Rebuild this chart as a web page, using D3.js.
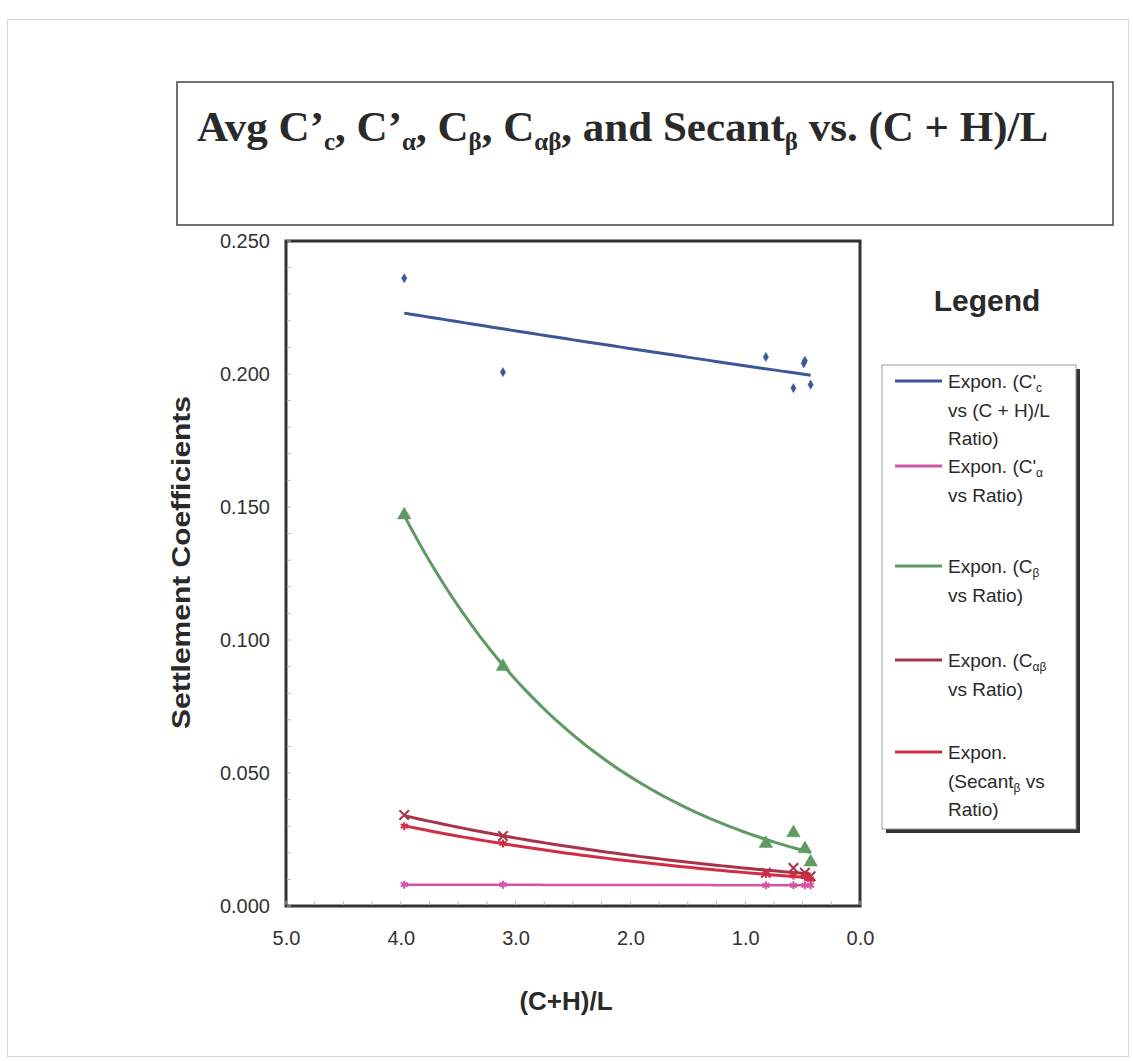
<!DOCTYPE html>
<html>
<head>
<meta charset="utf-8">
<script src="https://cdn.jsdelivr.net/npm/d3@7"></script>
<style>
  html, body { margin: 0; padding: 0; background: #fff; }
  svg { display: block; }
</style>
</head>
<body>
<svg id="chart" width="1133" height="1061"></svg>
<script>
// (C+H)/L ratio for each sample, and the averaged coefficients at each ratio
const ccRatio   = [3.97, 3.11, 0.82, 0.48, 0.49, 0.58, 0.43];
const ccValues  = [0.236, 0.2007, 0.2064, 0.205, 0.204, 0.1947, 0.196];

const caRatio   = [3.97, 3.11, 0.82, 0.58, 0.48, 0.43];
const caValues  = [0.0080, 0.0080, 0.0078, 0.0078, 0.0078, 0.0078];

const cbRatio   = [3.97, 3.11, 0.82, 0.58, 0.48, 0.43];
const cbValues  = [0.147, 0.090, 0.0235, 0.0275, 0.0215, 0.0165];

const cabRatio  = [3.97, 3.11, 0.82, 0.58, 0.48, 0.43];
const cabValues = [0.0342, 0.0263, 0.0125, 0.0143, 0.0125, 0.0112];

const secRatio  = [3.97, 3.11, 0.82, 0.58, 0.48, 0.43];
const secValues = [0.0300, 0.0235, 0.0120, 0.0115, 0.0110, 0.0100];

const xTicks = [5, 4, 3, 2, 1, 0];
const yTicks = [0, 0.05, 0.10, 0.15, 0.20, 0.25];

const series = [
  { key: "cc",  x: ccRatio,  y: ccValues,  color: "#3b5796", marker: "diamond", width: 3,
    legend: [["Expon. (C'", "c", ""], ["vs (C + H)/L"], ["Ratio)"]] },
  { key: "ca",  x: caRatio,  y: caValues,  color: "#d455a8", marker: "star", width: 2.5,
    legend: [["Expon. (C'", "α", ""], ["vs Ratio)"]] },
  { key: "cb",  x: cbRatio,  y: cbValues,  color: "#5f9a62", marker: "triangle", width: 3,
    legend: [["Expon. (C", "β", ""], ["vs Ratio)"]] },
  { key: "cab", x: cabRatio, y: cabValues, color: "#a8344a", marker: "cross", width: 3,
    legend: [["Expon. (C", "αβ", ""], ["vs Ratio)"]] },
  { key: "sec", x: secRatio, y: secValues, color: "#d42c44", marker: "star", width: 3,
    legend: [["Expon."], ["(Secant", "β", " vs"], ["Ratio)"]] }
];

// Least-squares exponential trend y = a·e^(b·x), fitted on ln(y)
function expFit(xs, ys) {
  const n = xs.length;
  const ly = ys.map(Math.log);
  const mx = d3.mean(xs), my = d3.mean(ly);
  let sxy = 0, sxx = 0;
  for (let i = 0; i < n; i++) {
    sxy += (xs[i] - mx) * (ly[i] - my);
    sxx += (xs[i] - mx) ** 2;
  }
  const b = sxy / sxx;
  const a = Math.exp(my - b * mx);
  return x => a * Math.exp(b * x);
}

const svg = d3.select("#chart");
const font = "'Liberation Sans', Arial, sans-serif";

// page frame
svg.append("rect").attr("x", 7.5).attr("y", 19.5).attr("width", 1121).attr("height", 1037)
  .attr("fill", "none").attr("stroke", "#d8d8d8").attr("stroke-width", 1);

// title box
svg.append("rect").attr("x", 177).attr("y", 82).attr("width", 936).attr("height", 143)
  .attr("fill", "#fff").attr("stroke", "#444").attr("stroke-width", 1.5);

const title = svg.append("text")
  .attr("x", 197).attr("y", 141)
  .attr("font-family", "'Liberation Serif', 'Times New Roman', serif")
  .attr("font-weight", "bold").attr("font-size", 43).attr("fill", "#2a2a2a");
const titleParts = [
  ["Avg C’", false], ["c", true], [", C’", false], ["α", true], [", C", false], ["β", true],
  [", C", false], ["αβ", true], [", and Secant", false], ["β", true], [" vs. (C + H)/L", false]
];
titleParts.forEach(([t, sub], i) => {
  const ts = title.append("tspan").text(t);
  if (sub) ts.attr("font-size", 25).attr("dy", 9);
  else if (i > 0 && titleParts[i - 1][1]) ts.attr("dy", -9);
});

// plot area
const plot = { left: 286, right: 860, top: 241, bottom: 906 };
const x = d3.scaleLinear().domain([5, 0]).range([plot.left, plot.right]);
const y = d3.scaleLinear().domain([0, 0.25]).range([plot.bottom, plot.top]);

svg.append("rect")
  .attr("x", plot.left).attr("y", plot.top)
  .attr("width", plot.right - plot.left).attr("height", plot.bottom - plot.top)
  .attr("fill", "#fff").attr("stroke", "#333").attr("stroke-width", 3);

// axes: labels only, the frame draws the lines
const xAxis = svg.append("g").attr("transform", `translate(0,${plot.bottom})`)
  .call(d3.axisBottom(x).tickValues(xTicks).tickFormat(d3.format(".1f")).tickSize(0).tickPadding(25));
const yAxis = svg.append("g").attr("transform", `translate(${plot.left},0)`)
  .call(d3.axisLeft(y).tickValues(yTicks).tickFormat(d3.format(".3f")).tickSize(0).tickPadding(16));
[xAxis, yAxis].forEach(g => {
  g.select(".domain").remove();
  g.selectAll("text").attr("font-family", font).attr("font-size", 20).attr("fill", "#333");
});

// minor tick marks just inside the frame
const minorY = d3.range(0, 0.2501, 0.01);
svg.append("g").selectAll("line").data(minorY).join("line")
  .attr("x1", plot.left + 1).attr("x2", plot.left + 5)
  .attr("y1", d => y(d)).attr("y2", d => y(d))
  .attr("stroke", "#bbb").attr("stroke-width", 1);
const minorX = d3.range(0, 5.01, 0.25);
svg.append("g").selectAll("line").data(minorX).join("line")
  .attr("y1", plot.bottom - 1).attr("y2", plot.bottom - 5)
  .attr("x1", d => x(d)).attr("x2", d => x(d))
  .attr("stroke", "#bbb").attr("stroke-width", 1);

// axis titles
svg.append("text").attr("transform", `translate(190,${(plot.top + plot.bottom) / 2 - 11}) rotate(-90)`)
  .attr("text-anchor", "middle").attr("font-family", font).attr("font-weight", "bold")
  .attr("font-size", 26).attr("textLength", 333).attr("lengthAdjust", "spacingAndGlyphs")
  .attr("fill", "#2a2a2a").text("Settlement Coefficients");
svg.append("text").attr("x", 566).attr("y", 1010)
  .attr("text-anchor", "middle").attr("font-family", font).attr("font-weight", "bold")
  .attr("font-size", 26).attr("fill", "#2a2a2a").text("(C+H)/L");

// trend lines
const line = d3.line().x(d => x(d[0])).y(d => y(d[1]));
const marks = svg.append("g");
series.forEach(s => {
  const f = expFit(s.x, s.y);
  const [x0, x1] = d3.extent(s.x);
  const pts = d3.range(0, 61).map(i => {
    const xv = x0 + (x1 - x0) * i / 60;
    return [xv, f(xv)];
  });
  marks.append("path").datum(pts).attr("d", line)
    .attr("fill", "none").attr("stroke", s.color).attr("stroke-width", s.width)
    .attr("stroke-linejoin", "round");
});

// data markers
const symbolFor = {
  diamond: d3.symbol().type(d3.symbolDiamond).size(24),
  triangle: d3.symbol().type(d3.symbolTriangle).size(80),
  cross: d3.symbol().type(d3.symbolTimes).size(60),
  star: d3.symbol().type(d3.symbolAsterisk).size(45)
};
series.forEach(s => {
  const pts = s.x.map((xv, i) => [xv, s.y[i]]);
  const filled = s.marker === "diamond" || s.marker === "triangle";
  marks.append("g").selectAll("path").data(pts).join("path")
    .attr("transform", d => `translate(${x(d[0])},${y(d[1])})`)
    .attr("d", symbolFor[s.marker])
    .attr("fill", filled ? s.color : "none")
    .attr("stroke", s.color).attr("stroke-width", filled ? 0.5 : 2);
});

// legend
svg.append("text").attr("x", 987).attr("y", 311).attr("text-anchor", "middle")
  .attr("font-family", font).attr("font-weight", "bold").attr("font-size", 30)
  .attr("fill", "#2a2a2a").text("Legend");

const lg = { x: 882, y: 365, w: 194, h: 464 };
svg.append("rect").attr("x", lg.x + 4).attr("y", lg.y + 4).attr("width", lg.w).attr("height", lg.h)
  .attr("fill", "#333");
svg.append("rect").attr("x", lg.x).attr("y", lg.y).attr("width", lg.w).attr("height", lg.h)
  .attr("fill", "#fff").attr("stroke", "#999").attr("stroke-width", 1);

const entryY = [381, 466, 566, 660, 752];
const lineGap = 28.5;
series.forEach((s, i) => {
  const ey = entryY[i];
  svg.append("line").attr("x1", 895).attr("x2", 942).attr("y1", ey).attr("y2", ey)
    .attr("stroke", s.color).attr("stroke-width", 3);
  s.legend.forEach((row, r) => {
    const t = svg.append("text").attr("x", 948).attr("y", ey + 7 + r * lineGap)
      .attr("font-family", font).attr("font-size", 19).attr("fill", "#2a2a2a");
    t.append("tspan").text(row[0]);
    if (row.length > 1) {
      t.append("tspan").text(row[1]).attr("font-size", 12).attr("dy", 4);
      if (row[2]) t.append("tspan").text(row[2]).attr("dy", -4);
    }
  });
});
</script>
</body>
</html>
